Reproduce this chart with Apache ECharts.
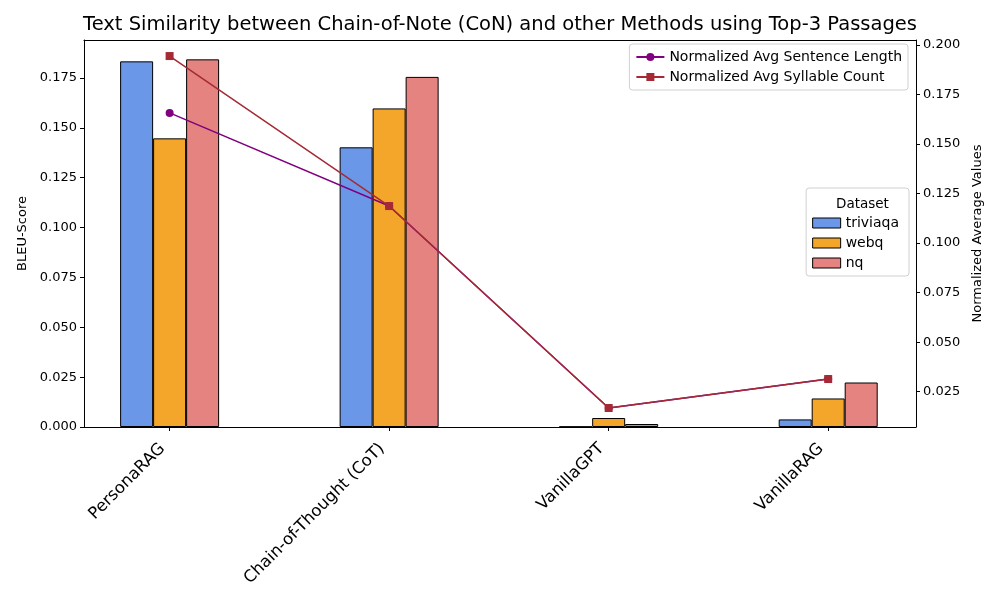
<!DOCTYPE html>
<html style="height: 100%">
<head>
<meta charset="utf-8">
</head>
<body style="height: 100%; margin: 0">
<div id="container" style="height: 600px; width: 1000px;"></div>
<script type="text/javascript" src="https://cdn.jsdelivr.net/npm/echarts@6/dist/echarts.min.js"></script>
<script type="text/javascript">
var methods = ["PersonaRAG", "Chain-of-Thought (CoT)", "VanillaGPT", "VanillaRAG"];
var datasets = ["triviaqa", "webq", "nq"];

// BLEU scores per dataset, one value per method
var triviaqa = [0.1833, 0.1402, 0.0002, 0.0038];
var webq = [0.1447, 0.1597, 0.0045, 0.0143];
var nq = [0.1843, 0.1755, 0.0015, 0.0223];

// normalized averages, right axis
var sentenceLength = [0.1657, 0.1187, 0.0168, 0.0314];
var syllableCount = [0.1944, 0.1187, 0.0168, 0.0314];

var leftTicks = [0, 0.025, 0.05, 0.075, 0.1, 0.125, 0.15, 0.175];
var rightTicks = [0.025, 0.05, 0.075, 0.1, 0.125, 0.15, 0.175, 0.2];

var FONT = "DejaVu Sans";
var dom = document.getElementById("container");
var myChart = echarts.init(dom);

function pairs(arr) {
	return arr.map(function (v, i) { return [i, v]; });
}

var barColors = ["#6a97e8", "#f4a62a", "#e4837f"];
var barData = [triviaqa, webq, nq];

var series = datasets.map(function (name, k) {
	return {
		name: name,
		type: 'bar',
		xAxisIndex: 0,
		yAxisIndex: 0,
		barWidth: 33,
		barGap: '0%',
		itemStyle: {color: barColors[k], borderColor: '#000', borderWidth: 1},
		data: pairs(barData[k])
	};
});

series.push({
	name: 'Normalized Avg Sentence Length',
	type: 'line',
	xAxisIndex: 0,
	yAxisIndex: 1,
	symbol: 'circle',
	symbolSize: 8,
	color: '#800080',
	lineStyle: {width: 1.5},
	z: 5,
	data: pairs(sentenceLength)
});
series.push({
	name: 'Normalized Avg Syllable Count',
	type: 'line',
	xAxisIndex: 0,
	yAxisIndex: 1,
	symbol: 'rect',
	symbolSize: 8,
	color: '#a52a35',
	lineStyle: {width: 1.5},
	z: 6,
	data: pairs(syllableCount)
});

var option = {
	animation: false,
	textStyle: {fontFamily: FONT},
	title: [
		{
			text: 'Text Similarity between Chain-of-Note (CoN) and other Methods using Top-3 Passages',
			left: 'center',
			top: 10,
			textStyle: {fontFamily: FONT, fontSize: 19.5, fontWeight: 'normal', color: '#000'}
		},
		{
			text: 'Dataset',
			left: 831,
			top: 192,
			textStyle: {fontFamily: FONT, fontSize: 13.5, fontWeight: 'normal', color: '#000'}
		}
	],
	grid: {left: 84, right: 84, top: 40, bottom: 173},
	legend: [
		{
			data: ['Normalized Avg Sentence Length', 'Normalized Avg Syllable Count'],
			orient: 'vertical',
			right: 92,
			top: 44,
			itemWidth: 28,
			itemHeight: 10,
			itemGap: 6,
			padding: [6, 6, 6, 6],
			backgroundColor: '#fff',
			borderColor: '#d0d0d0',
			borderWidth: 1,
			borderRadius: 3,
			textStyle: {fontFamily: FONT, fontSize: 14, color: '#000'}
		},
		{
			data: datasets,
			orient: 'vertical',
			right: 91,
			top: 188,
			icon: 'rect',
			itemWidth: 28,
			itemHeight: 10,
			itemGap: 6,
			padding: [28, 10, 6, 6],
			backgroundColor: '#fff',
			borderColor: '#d0d0d0',
			borderWidth: 1,
			borderRadius: 3,
			itemStyle: {borderWidth: 1, borderColor: '#000'},
			textStyle: {fontFamily: FONT, fontSize: 14, color: '#000'}
		}
	],
	xAxis: [
		{
			type: 'value',
			min: -0.39,
			max: 3.4,
			splitLine: {show: false},
			axisLine: {show: true, onZero: false, lineStyle: {color: '#000'}},
			axisTick: {show: true, length: 4, customValues: [0, 1, 2, 3], lineStyle: {color: '#000'}},
			axisLabel: {
				customValues: [0, 1, 2, 3],
				rotate: 45,
				fontSize: 16.5,
				color: '#000',
				margin: 12,
				padding: [0, 10, 0, 0],
				formatter: function (v) { return methods[Math.round(v)]; }
			}
		},
		{
			type: 'value',
			position: 'top',
			min: -0.39,
			max: 3.4,
			splitLine: {show: false},
			axisLine: {show: true, onZero: false, lineStyle: {color: '#000'}},
			axisTick: {show: false},
			axisLabel: {show: false}
		}
	],
	yAxis: [
		{
			type: 'value',
			name: 'BLEU-Score',
			nameLocation: 'middle',
			nameGap: 50,
			nameTextStyle: {fontFamily: FONT, fontSize: 13, color: '#000'},
			min: 0,
			max: 0.194,
			splitLine: {show: false},
			axisLine: {show: true, onZero: false, lineStyle: {color: '#000'}},
			axisTick: {show: true, length: 4, customValues: leftTicks, lineStyle: {color: '#000'}},
			axisLabel: {
				customValues: leftTicks,
				fontSize: 13,
				color: '#000',
				margin: 7,
				formatter: function (v) { return v.toFixed(3); }
			}
		},
		{
			type: 'value',
			name: 'Normalized Average Values',
			nameLocation: 'middle',
			nameGap: 55,
			nameTextStyle: {fontFamily: FONT, fontSize: 13, color: '#000'},
			min: 0.0072,
			max: 0.2025,
			splitLine: {show: false},
			axisLine: {show: true, onZero: false, lineStyle: {color: '#000'}},
			axisTick: {show: true, length: 4, customValues: rightTicks, lineStyle: {color: '#000'}},
			axisLabel: {
				customValues: rightTicks,
				fontSize: 13,
				color: '#000',
				margin: 7,
				formatter: function (v) { return v.toFixed(3); }
			}
		}
	],
	series: series
};

myChart.setOption(option);
</script>
</body>
</html>
